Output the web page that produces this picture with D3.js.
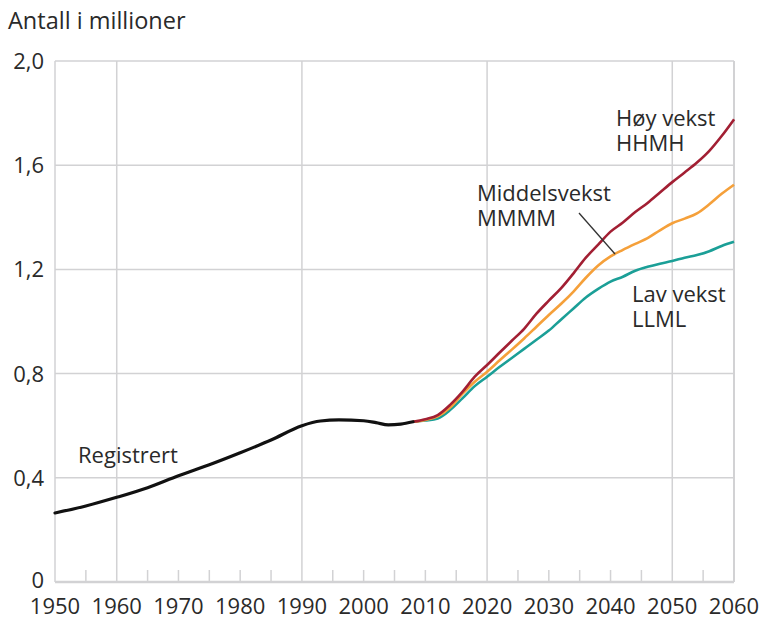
<!DOCTYPE html>
<html>
<head>
<meta charset="utf-8">
<script src="https://cdn.jsdelivr.net/npm/d3@7"></script>
<style>
  html, body { margin: 0; padding: 0; background: #fff; }
  svg { display: block; }
  text { font-family: "Open Sans", "DejaVu Sans", sans-serif; fill: #2a2a2a; }
</style>
</head>
<body>
<svg id="chart" width="763" height="631"></svg>
<script>
// ---- data ----
const yTicks = [0, 0.4, 0.8, 1.2, 1.6, 2.0];
const yTickLabels = ["0", "0,4", "0,8", "1,2", "1,6", "2,0"];
const xTicks = [1950, 1960, 1970, 1980, 1990, 2000, 2010, 2020, 2030, 2040, 2050, 2060];
const xGrid = [1960, 1990, 2020, 2050];

const regYears = [1950, 1955, 1960, 1965, 1970, 1975, 1980, 1985, 1990, 1993, 1996, 2000, 2002, 2004, 2006, 2008];
const regValues = [0.265, 0.292, 0.325, 0.362, 0.408, 0.450, 0.496, 0.545, 0.600, 0.618, 0.622, 0.619, 0.612, 0.603, 0.606, 0.615];

const projYears = [2008, 2010, 2012, 2014, 2016, 2018, 2020, 2022, 2024, 2026, 2028, 2030, 2032, 2034, 2036, 2038, 2040, 2042, 2044, 2046, 2048, 2050, 2052, 2054, 2056, 2058, 2060];
const hoyValues = [0.615, 0.625, 0.641, 0.680, 0.730, 0.788, 0.833, 0.880, 0.926, 0.972, 1.030, 1.080, 1.128, 1.185, 1.245, 1.295, 1.345, 1.380, 1.420, 1.455, 1.495, 1.535, 1.572, 1.610, 1.655, 1.712, 1.776];
const middelValues = [0.615, 0.622, 0.636, 0.670, 0.722, 0.769, 0.807, 0.850, 0.892, 0.935, 0.980, 1.025, 1.068, 1.115, 1.168, 1.215, 1.250, 1.275, 1.298, 1.320, 1.350, 1.377, 1.395, 1.415, 1.450, 1.490, 1.525];
const lavValues = [0.615, 0.620, 0.628, 0.660, 0.705, 0.752, 0.788, 0.825, 0.860, 0.895, 0.930, 0.965, 1.008, 1.050, 1.092, 1.125, 1.153, 1.172, 1.195, 1.210, 1.222, 1.232, 1.245, 1.255, 1.270, 1.290, 1.306];

const title = "Antall i millioner";

// ---- layout ----
const svg = d3.select("#chart");
const L = 55, R = 734, T = 61, B = 582;
const x = d3.scaleLinear().domain([1950, 2060]).range([L, R]);
const y = d3.scaleLinear().domain([0, 2.0]).range([B, T]);
const gridColor = "#d2d2d4";

// horizontal grid
svg.append("g").selectAll("line").data(yTicks.filter(d => d > 0)).join("line")
  .attr("x1", L).attr("x2", R).attr("y1", d => y(d)).attr("y2", d => y(d))
  .attr("stroke", gridColor).attr("stroke-width", 1.5);

// vertical grid + edges
svg.append("g").selectAll("line").data([1950, ...xGrid, 2060]).join("line")
  .attr("x1", d => x(d)).attr("x2", d => x(d)).attr("y1", T).attr("y2", B)
  .attr("stroke", gridColor).attr("stroke-width", d => d === 2060 ? 2 : 1.5);

// minor ticks every 5 years
const minor = d3.range(1955, 2060, 5).filter(d => !xGrid.includes(d));
svg.append("g").selectAll("line").data(minor).join("line")
  .attr("x1", d => x(d)).attr("x2", d => x(d)).attr("y1", B - 12).attr("y2", B)
  .attr("stroke", gridColor).attr("stroke-width", 1.5);

// bottom axis line
svg.append("line").attr("x1", L).attr("x2", R).attr("y1", B).attr("y2", B)
  .attr("stroke", gridColor).attr("stroke-width", 2.5);

// y labels
svg.append("g").selectAll("text").data(yTicks).join("text")
  .attr("x", 44).attr("y", d => y(d) - (d === 0 ? 2 : 0)).attr("dy", "0.36em")
  .attr("text-anchor", "end").attr("font-size", 22)
  .text((d, i) => yTickLabels[i]);

// x labels
svg.append("g").selectAll("text").data(xTicks).join("text")
  .attr("x", d => x(d)).attr("y", 614)
  .attr("text-anchor", "middle").attr("font-size", 22)
  .text(d => d);

// title
svg.append("text").attr("x", 8).attr("y", 29).attr("font-size", 23.5).text(title);

// lines
const line = d3.line().x(d => x(d[0])).y(d => y(d[1])).curve(d3.curveMonotoneX);
const series = [
  { values: lavValues, color: "#1b9f97" },
  { values: middelValues, color: "#f5a03a" },
  { values: hoyValues, color: "#a21f33" }
];
series.forEach(s => {
  svg.append("path").datum(projYears.map((yr, i) => [yr, s.values[i]]))
    .attr("d", line).attr("fill", "none").attr("stroke", s.color)
    .attr("stroke-width", 2.6).attr("stroke-linejoin", "round");
});
svg.append("path").datum(regYears.map((yr, i) => [yr, regValues[i]]))
  .attr("d", line).attr("fill", "none").attr("stroke", "#111")
  .attr("stroke-width", 3.2).attr("stroke-linecap", "round");

// annotations
function label(lines, x0, y0) {
  lines.forEach((s, i) => svg.append("text").attr("x", x0).attr("y", y0 + i * 25)
    .attr("font-size", 22).text(s));
}
label(["Høy vekst", "HHMH"], 616, 126);
label(["Middelsvekst", "MMMM"], 477, 201);
label(["Lav vekst", "LLML"], 632, 302);
label(["Registrert"], 78, 463);

// leader line for Middelsvekst
svg.append("line").attr("x1", 579).attr("y1", 213).attr("x2", 615).attr("y2", 254)
  .attr("stroke", "#333").attr("stroke-width", 1.3);
</script>
</body>
</html>
